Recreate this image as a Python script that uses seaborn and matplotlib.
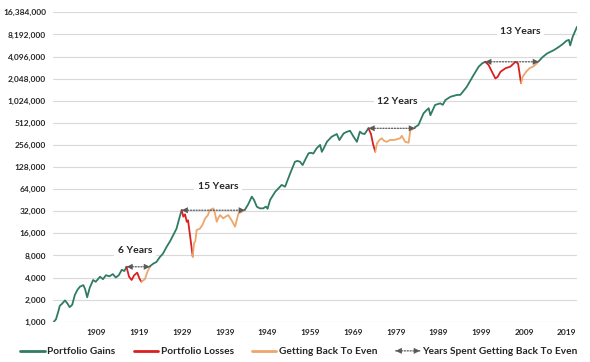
# portfolio growth on a log2 scale with drawdown / recovery episodes
import pandas as pd
import seaborn as sns
from matplotlib import pyplot as plt
from matplotlib.lines import Line2D
from matplotlib.patches import FancyArrowPatch
from matplotlib.legend_handler import HandlerBase
from matplotlib.ticker import FixedLocator, NullLocator, FuncFormatter

sns.set_style("white")
plt.rcParams['font.family'] = ['Lato', 'DejaVu Sans']

## DATA ##
years = [1899.0, 1899.5, 1900.0, 1900.4, 1900.9, 1901.6, 1902.1, 1902.7, 1903.3, 1903.9,
         1904.5, 1905.1, 1905.9, 1906.3, 1906.8, 1907.4, 1908.2, 1908.8, 1909.8, 1910.5,
         1911.2, 1912.0, 1912.8, 1913.5, 1914.2, 1914.9, 1915.5, 1916.0, 1916.6, 1917.2,
         1917.8, 1918.5, 1919.1, 1919.5, 1920.3, 1920.9, 1921.5, 1922.3, 1923.0, 1923.8,
         1924.5, 1925.4, 1926.2, 1926.9, 1927.7, 1928.3, 1928.9, 1929.3, 1929.7, 1930.1,
         1930.4, 1930.7, 1931.0, 1931.2, 1931.5, 1931.8, 1932.1, 1932.4, 1933.2, 1933.8,
         1934.4, 1935.0, 1935.5, 1936.3, 1936.7, 1937.1, 1937.5, 1937.9, 1938.6, 1939.2,
         1939.8, 1940.6, 1941.4, 1942.2, 1942.8, 1943.7, 1944.5, 1945.3, 1945.8, 1946.5,
         1947.2, 1948.0, 1948.6, 1949.0, 1949.6, 1950.8, 1951.5, 1952.3, 1953.1, 1954.3,
         1955.4, 1956.0, 1956.6, 1957.2, 1957.9, 1958.6, 1959.2, 1959.7, 1960.5, 1961.3,
         1961.7, 1962.3, 1962.9, 1964.0, 1965.2, 1965.8, 1966.8, 1967.5, 1968.3, 1969.0,
         1969.9, 1970.6, 1971.1, 1971.7, 1972.6, 1973.2, 1973.7, 1974.2, 1974.6, 1975.2,
         1975.7, 1976.3, 1976.9, 1977.7, 1978.5, 1979.2, 1980.0, 1980.4, 1981.2, 1982.0,
         1982.4, 1983.0, 1983.5, 1984.3, 1985.5, 1986.2, 1986.7, 1987.1, 1988.2, 1989.4,
         1990.0, 1990.6, 1991.8, 1993.3, 1994.1, 1995.6, 1997.2, 1998.4, 1999.2, 1999.9,
         2000.7, 2001.5, 2002.3, 2002.8, 2003.5, 2004.7, 2005.8, 2007.0, 2007.6, 2007.9,
         2008.3, 2008.7, 2009.5, 2010.3, 2011.1, 2012.0, 2012.5, 2013.3, 2014.4, 2016.0,
         2017.2, 2018.3, 2018.9, 2019.5, 2019.8, 2020.4, 2021.4]
values = [1000, 1080, 1350, 1650, 1750, 1950, 1800, 1580, 1700, 2300,
          2700, 3000, 3150, 2800, 2150, 2900, 3700, 3500, 4100, 3800,
          4300, 4150, 4450, 4000, 4300, 5100, 4900, 5600, 4100, 3700,
          4300, 4650, 3800, 3500, 3800, 4800, 5700, 6200, 6500, 7600,
          8400, 10500, 12500, 15000, 18500, 25000, 33000, 27000, 29000, 23000,
          24000, 17700, 13000, 10500, 7700, 11700, 12500, 17700, 18600, 21000,
          25600, 28000, 33000, 35000, 30000, 23000, 26000, 28400, 25600, 27000,
          28400, 24000, 19700, 29900, 31000, 33500, 40000, 50600, 46000, 36800,
          35000, 35000, 37000, 34500, 45600, 59000, 65000, 73000, 69000, 105000,
          151000, 155000, 151000, 136000, 165000, 197000, 200000, 195000, 231000, 256000,
          206000, 240000, 283000, 331000, 360000, 298000, 367000, 385000, 399000, 340000,
          282000, 388000, 367000, 360000, 431000, 360000, 260000, 207000, 269000, 300000,
          315000, 290000, 282000, 300000, 298000, 305000, 315000, 340000, 282000, 274000,
          407000, 420000, 446000, 478000, 690000, 760000, 809000, 650000, 898000, 942000,
          900000, 1045000, 1160000, 1226000, 1230000, 1580000, 2290000, 2980000, 3300000, 3470000,
          3150000, 2540000, 2060000, 2150000, 2540000, 2840000, 2980000, 3470000, 3300000, 2540000,
          1770000, 2180000, 2540000, 2840000, 2980000, 3300000, 3560000, 4000000, 4510000, 5010000,
          5560000, 6210000, 6700000, 6900000, 5800000, 7640000, 10400000]

peak_years = [1916.0, 1928.9, 1972.6, 1999.9]
trough_years = [1919.5, 1931.5, 1974.2, 2008.3]
recovery_years = [1921.5, 1943.7, 1983.5, 2012.5]
episode_labels = ['6 Years', '15 Years', '12 Years', '13 Years']
label_years = [1918.0, 1937.4, 1979.4, 2008.2]
label_values = [9200, 69000, 990000, 9100000]

y_ticks = [1000, 2000, 4000, 8000, 16000, 32000, 64000, 128000, 256000, 512000,
           1024000, 2048000, 4096000, 8192000, 16384000]
x_ticks = [1909, 1919, 1929, 1939, 1949, 1959, 1969, 1979, 1989, 1999, 2009, 2019]

GREEN = '#2F7B63'
RED = '#D9201E'
ORANGE = '#EDA66B'
ARROW = '#595959'
TEXT = '#262626'

df = pd.DataFrame({'year': years, 'value': values})

## PLOT ##
fig, ax = plt.subplots(figsize=(5.9, 3.62), dpi=100)
fig.subplots_adjust(left=0.0898, right=0.978, bottom=0.1113, top=0.966)

# split the series into gain / loss / recovery pieces
breaks = [years[0]]
for p, t, r in zip(peak_years, trough_years, recovery_years):
    breaks += [p, t, r]
breaks.append(years[-1])
seg_colors = [GREEN] + [RED, ORANGE, GREEN] * len(peak_years)

for a, b, c in zip(breaks[:-1], breaks[1:], seg_colors):
    seg = df[(df['year'] >= a) & (df['year'] <= b)]
    sns.lineplot(data=seg, x='year', y='value', color=c, lw=1.3, ax=ax, estimator=None)

ax.set_yscale('log', base=2)
ax.set_ylim(1000, 16384000)
ax.set_xlim(1898.8, 2021.4)

ax.yaxis.set_major_locator(FixedLocator(y_ticks))
ax.yaxis.set_minor_locator(NullLocator())
ax.yaxis.set_major_formatter(FuncFormatter(lambda v, p: f'{v:,.0f}'))
ax.set_xticks(x_ticks)
ax.tick_params(axis='y', length=0, labelsize=6, labelcolor=TEXT, pad=5)
ax.tick_params(axis='x', length=0, labelsize=6, labelcolor=TEXT, pad=5.5)
for lab in ax.get_xticklabels() + ax.get_yticklabels():
    lab.set_fontweight('bold')
ax.grid(axis='y', color='#D9D9D9', lw=0.8)
ax.grid(axis='x', visible=False)
ax.set_xlabel('')
ax.set_ylabel('')
sns.despine(left=True, bottom=True)

# years-to-even arrows and labels
for p, r, lab, lx, ly in zip(peak_years, recovery_years, episode_labels, label_years, label_values):
    pv = df.loc[df['year'] == p, 'value'].iloc[0]
    ax.annotate('', xy=(r, pv), xytext=(p, pv),
                arrowprops=dict(arrowstyle='-', color=ARROW, lw=0.9,
                                linestyle=(0, (1, 1.3)), shrinkA=0, shrinkB=0))
    ax.annotate('', xy=(r, pv), xytext=(p, pv),
                arrowprops=dict(arrowstyle='<|-|>,head_length=0.45,head_width=0.22',
                                color=ARROW, lw=0, shrinkA=0, shrinkB=0))
    ax.text(lx, ly, lab, ha='center', va='center', fontsize=7.5, fontweight='bold',
            color=TEXT, bbox=dict(boxstyle='square,pad=0.35', fc='white', ec='none'))


class ArrowHandler(HandlerBase):
    def create_artists(self, legend, orig_handle, xdescent, ydescent, width, height, fontsize, trans):
        y = height / 2 - ydescent
        line = FancyArrowPatch((-xdescent, y), (width - xdescent, y), arrowstyle='-',
                               color=ARROW, lw=0.9, linestyle=(0, (1, 1.3)),
                               shrinkA=0, shrinkB=0, transform=trans)
        heads = FancyArrowPatch((-xdescent, y), (width - xdescent, y),
                                arrowstyle='<|-|>,head_length=0.45,head_width=0.22',
                                color=ARROW, lw=0, shrinkA=0, shrinkB=0,
                                mutation_scale=10, transform=trans)
        return [line, heads]


arrow_handle = Line2D([], [], color=ARROW)
handles = [Line2D([], [], color=GREEN, lw=2),
           Line2D([], [], color=RED, lw=2),
           Line2D([], [], color=ORANGE, lw=2),
           arrow_handle]
names = ['Portfolio Gains', 'Portfolio Losses', 'Getting Back To Even',
         'Years Spent Getting Back To Even']
leg = fig.legend(handles, names, loc='center', bbox_to_anchor=(0.507, 0.028), ncol=4,
                 frameon=False, handlelength=2.4, handletextpad=0.25, columnspacing=1.8,
                 prop={'size': 7.3, 'weight': 'bold'},
                 handler_map={arrow_handle: ArrowHandler()})
for t in leg.get_texts():
    t.set_color(TEXT)

fig.savefig('out.png', dpi=100)
